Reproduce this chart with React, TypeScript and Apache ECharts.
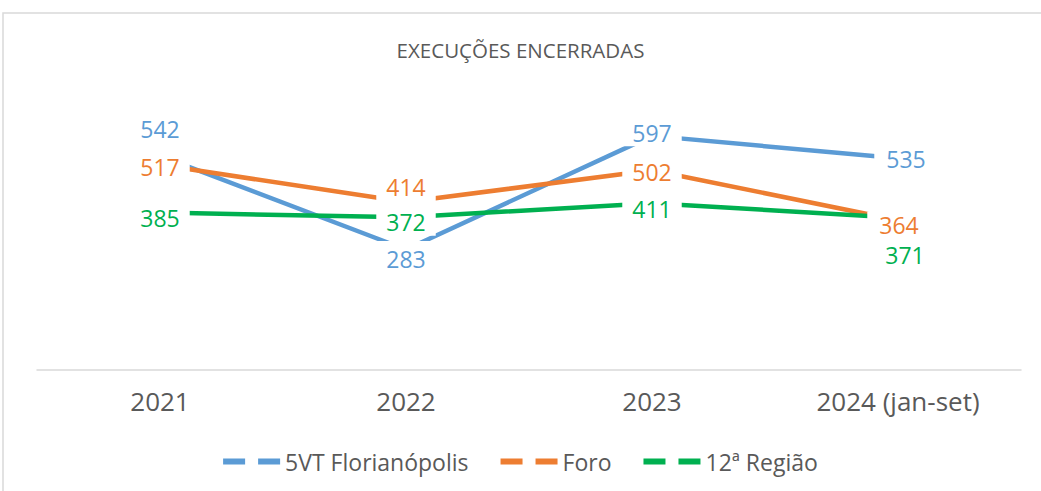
import React, { useEffect, useRef } from "react";
import * as echarts from "echarts";

const categories = ["2021", "2022", "2023", "2024 (jan-set)"];
const seriesNames = ["5VT Florianópolis", "Foro", "12ª Região"];
const vtFloripa = [542, 283, 597, 535];
const foro = [517, 414, 502, 364];
const regiao12 = [385, 372, 411, 371];
const titleText = "EXECUÇÕES ENCERRADAS";

const colors = ["#5B9BD5", "#ED7D31", "#00B050"];
// label nudges (layout only)
const labelOffsets: number[][][] = [
  [[0, -27], [0, 10], [0, -3], [7, 1]],
  [[0, 2], [0, -15], [0, 2], [0, 5]],
  [[0, 5], [0, 5], [0, 6], [7, 37]],
];
const labelPaddings: number[][][] = [
  [[2, 10, 2, 10], [12, 10, 2, 10], [2, 10, 2, 10], [2, 10, 2, 12]],
  [[2, 10, 2, 10], [2, 10, 11, 10], [2, 10, 2, 10], [2, 10, 2, 12]],
  [[2, 10, 2, 10], [2, 10, 2, 10], [2, 10, 2, 10], [2, 10, 2, 10]],
];

const FONT = "'Open Sans', 'Noto Sans', sans-serif";

export default function App() {
  const ref = useRef<HTMLDivElement>(null);
  useEffect(() => {
    if (!ref.current) return;
    const chart = echarts.init(ref.current, undefined, { renderer: "svg" });
    const allData = [vtFloripa, foro, regiao12];
    const series = allData.map((vals, si) => ({
      name: seriesNames[si],
      type: "line",
      data: vals.map((v, i) => ({
        value: v,
        label: { offset: labelOffsets[si][i], padding: labelPaddings[si][i] },
      })),
      symbol: "circle",
      symbolSize: 1,
      showSymbol: true,
      itemStyle: { color: colors[si] },
      lineStyle: { color: colors[si], width: 4.5, cap: "butt" },
      label: {
        show: true,
        position: "inside",
        color: colors[si],
        fontSize: 23,
        fontFamily: FONT,
        backgroundColor: "#ffffff",
      },
      z: 2,
    }));
    chart.setOption({
      animation: false,
      backgroundColor: "#ffffff",
      title: {
        text: titleText,
        left: "center",
        top: 34,
        textStyle: {
          color: "#595959",
          fontSize: 20.5,
          fontWeight: "normal",
          fontFamily: FONT,
        },
      },
      graphic: [
        {
          type: "rect",
          shape: { x: 3, y: 13, width: 1200, height: 700 },
          style: { fill: "none", stroke: "#d9d9d9", lineWidth: 1.5 },
          silent: true,
        },
      ],
      legend: {
        data: seriesNames,
        left: "center",
        top: 445,
        icon: "path://M0,0 h22 v6 h-22 z M35,0 h22 v6 h-22 z",
        itemWidth: 57,
        itemHeight: 6,
        itemGap: 32,
        textStyle: { color: "#595959", fontSize: 23, fontFamily: FONT },
      },
      grid: { left: 37, right: 20, top: 98.6, bottom: 121 },
      xAxis: {
        type: "category",
        data: categories,
        boundaryGap: true,
        axisLine: { onZero: false, lineStyle: { color: "#d9d9d9", width: 1.5 } },
        axisTick: { show: false },
        axisLabel: {
          color: "#595959",
          fontSize: 26,
          fontFamily: FONT,
          margin: 18,
        },
      },
      yAxis: {
        type: "value",
        min: -50,
        max: 700,
        show: false,
        splitLine: { show: false },
      },
      series,
    });
    return () => chart.dispose();
  }, []);
  return (
    <div
      ref={ref}
      style={{ position: "fixed", left: 0, top: 0, width: 1041, height: 491, background: "#fff" }}
    />
  );
}
